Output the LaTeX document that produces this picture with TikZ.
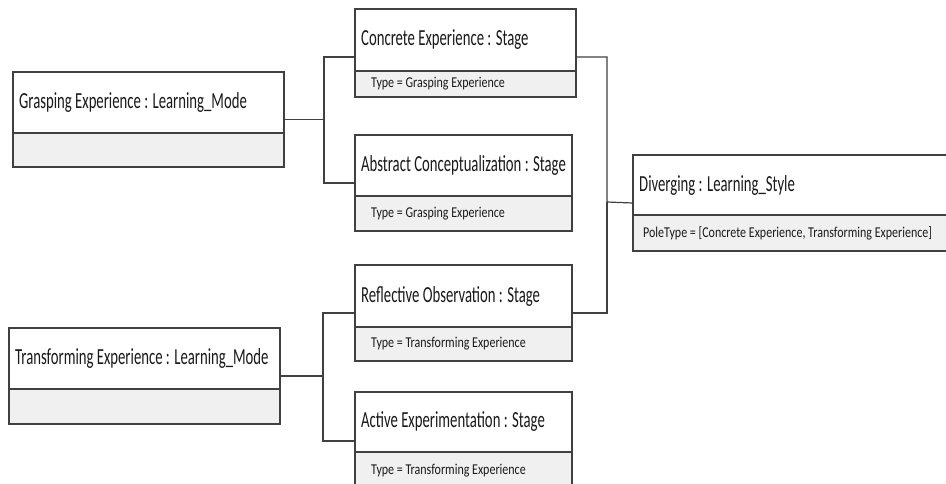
\documentclass[tikz,border=0pt]{standalone}
\usepackage{fontspec}
\usetikzlibrary{fit}
\newfontfamily\titlefont[FakeStretch=0.64]{Carlito}
\newfontfamily\attrfont[FakeStretch=0.8]{Carlito}
\definecolor{frameclr}{RGB}{64,64,64}
\definecolor{compfill}{RGB}{240,240,240}
\definecolor{inkclr}{RGB}{26,26,26}
\tikzset{
  objframe/.style={draw=frameclr, line width=1.3pt, inner sep=0pt},
  objline/.style={draw=frameclr, line width=1.3pt},
  titletext/.style={anchor=west, inner sep=0pt, text=inkclr, font=\titlefont\fontsize{23}{23}\selectfont},
  attrtext/.style={anchor=west, inner sep=0pt, text=inkclr, font=\attrfont\fontsize{15}{15}\selectfont},
  wire/.style={draw=frameclr, line width=1.2pt},
}
% object box: name, left, top, right, divider, bottom, title, attribute, attribute indent
\newcommand{\umlobject}[9]{%
  \fill[compfill] (#2,#5) rectangle (#4,#6);
  \node[objframe, fit={(#2,#3)(#4,#6)}] (#1) {};
  \draw[objline] (#2,#5) -- (#4,#5);
  \node[titletext] (#1-title) at ({#2+6},{(#3+#5)/2}) {#7};
  \node[attrtext] (#1-attr) at ({#2+#9},{(#5+#6)/2}) {#8};
}
\begin{document}
\begin{tikzpicture}[x=1pt,y=-1pt]
  \useasboundingbox (0,0) rectangle (946,484);
  \clip (0,0) rectangle (946,484);
  \fill[white] (0,0) rectangle (946,484);

  \umlobject{grasp}{13}{72}{284}{133}{167}{Grasping Experience : Learning\_Mode}{}{16}
  \umlobject{transf}{9}{328}{280}{389}{424}{Transforming Experience : Learning\_Mode}{}{16}
  \umlobject{concrete}{355}{9}{576}{71}{97}{Concrete Experience : Stage}{Type = Grasping Experience}{16}
  \umlobject{abstract}{355}{135}{572}{196}{231}{Abstract Conceptualization : Stage}{Type = Grasping Experience}{16}
  \umlobject{reflect}{355}{265}{572}{327}{361}{Reflective Observation : Stage}{Type = Transforming Experience}{16}
  \umlobject{active}{355}{392}{572}{452}{490}{Active Experimentation : Stage}{Type = Transforming Experience}{16}
  \umlobject{diverg}{633}{155}{960}{215}{251}{Diverging : Learning\_Style}{PoleType = [Concrete Experience, Transforming Experience]}{10}

  % junction points of the connector trees
  \coordinate (gsplit) at (324,120);
  \coordinate (tsplit) at (323,376);
  \coordinate (hub) at (607,202);

  \draw[wire] (grasp.east) -- (gsplit |- grasp.east) |- ([yshift=-4pt]concrete.west);
  \draw[wire] (gsplit |- grasp.east) |- (abstract.west);
  \draw[wire] (transf.east) -- (tsplit |- transf.east) |- (reflect.west);
  \draw[wire] (tsplit |- transf.east) |- (active.west);
  \draw[wire] ([yshift=-4pt]concrete.east) -| (hub) -- (diverg.west);
  \draw[wire] (reflect.east) -| (hub);
\end{tikzpicture}
\end{document}
